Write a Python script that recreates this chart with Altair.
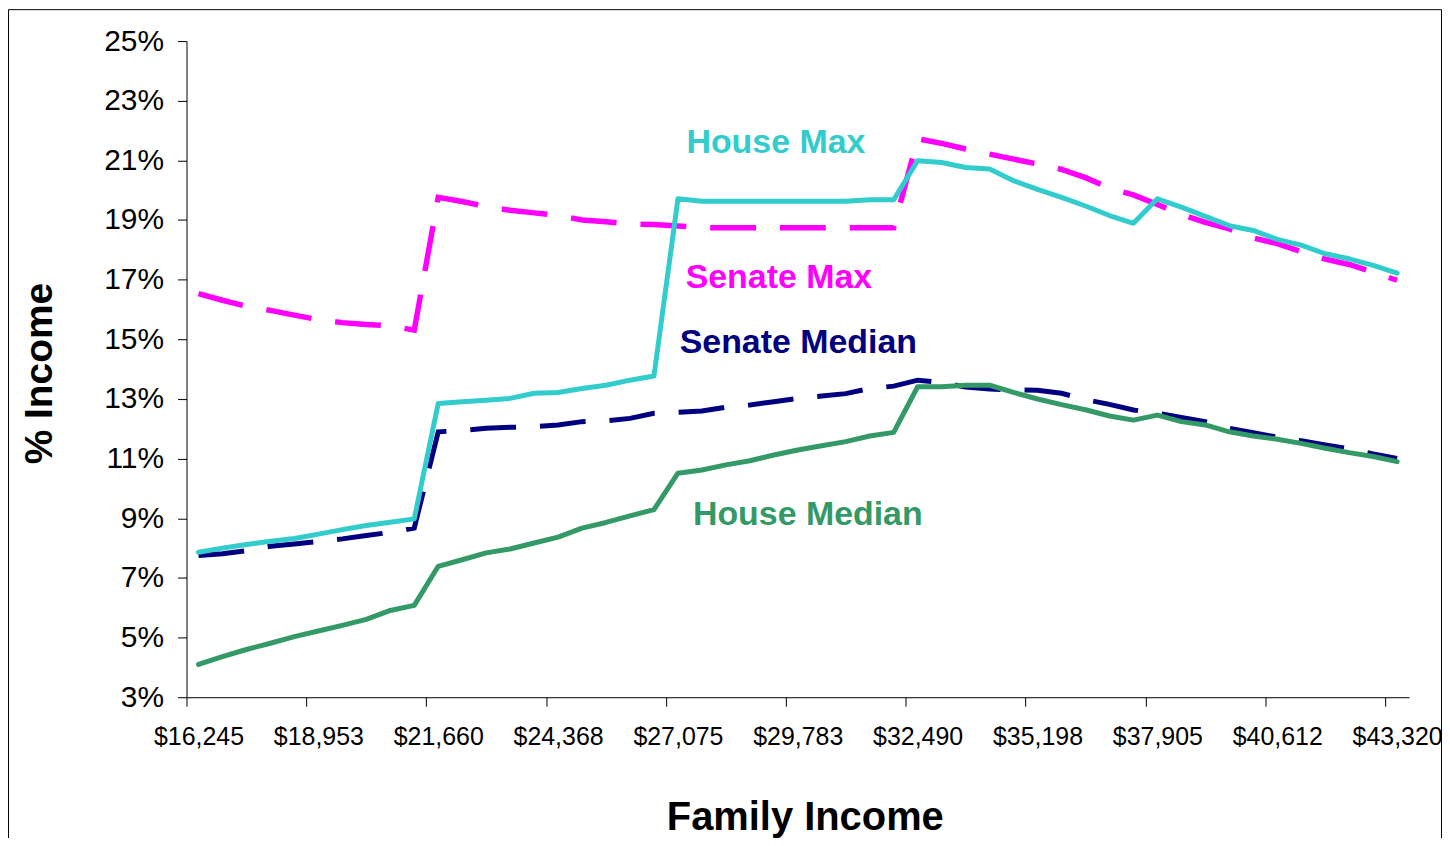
import altair as alt
import pandas as pd

# ---------------- data ----------------
# category grid (51 income steps, every 5th one labelled)
incomes = [16245 + 541.5 * k for k in range(51)]

house_max = [7.86, 8.00, 8.12, 8.23, 8.32, 8.47, 8.62, 8.76, 8.87, 8.98,
             12.85, 12.91, 12.96, 13.02, 13.19, 13.22, 13.35, 13.46, 13.63, 13.77,
             19.71, 19.63, 19.63, 19.63, 19.63, 19.63, 19.63, 19.63, 19.68, 19.68,
             20.99, 20.93, 20.76, 20.71, 20.32, 20.03, 19.76, 19.47, 19.15, 18.89,
             19.71, 19.43, 19.12, 18.81, 18.65, 18.35, 18.16, 17.87, 17.70, 17.48, 17.22]

senate_max = [16.53, 16.31, 16.11, 15.97, 15.81, 15.66, 15.56, 15.50, 15.45, 15.31,
              19.76, 19.62, 19.45, 19.33, 19.24, 19.16, 19.00, 18.94, 18.87, 18.85,
              18.80, 18.74, 18.74, 18.74, 18.74, 18.74, 18.74, 18.74, 18.74, 18.74,
              21.72, 21.57, 21.38, 21.21, 21.04, 20.88, 20.70, 20.42, 20.07, 19.84,
              19.52, 19.19, 18.92, 18.70, 18.40, 18.21, 17.94, 17.69, 17.51, 17.25, 16.98]

senate_median = [7.75, 7.81, 7.91, 8.06, 8.14, 8.22, 8.31, 8.42, 8.53, 8.67,
                 11.90, 11.94, 12.02, 12.05, 12.07, 12.13, 12.24, 12.27, 12.35, 12.52,
                 12.55, 12.60, 12.72, 12.80, 12.91, 13.02, 13.10, 13.18, 13.35, 13.43,
                 13.63, 13.55, 13.40, 13.33, 13.31, 13.29, 13.19, 12.98, 12.82, 12.63,
                 12.52, 12.38, 12.24, 12.02, 11.87, 11.72, 11.60, 11.46, 11.33, 11.16, 11.01]

house_median = [4.10, 4.36, 4.60, 4.81, 5.03, 5.22, 5.41, 5.61, 5.91, 6.08,
                7.39, 7.61, 7.84, 7.97, 8.17, 8.37, 8.67, 8.86, 9.08, 9.29,
                10.51, 10.62, 10.79, 10.93, 11.12, 11.29, 11.43, 11.57, 11.76, 11.88,
                13.41, 13.41, 13.46, 13.46, 13.22, 13.00, 12.81, 12.64, 12.43, 12.29,
                12.46, 12.24, 12.13, 11.90, 11.76, 11.65, 11.51, 11.35, 11.20, 11.07, 10.90]

x_tick_labels = ["$16,245", "$18,953", "$21,660", "$24,368", "$27,075", "$29,783",
                 "$32,490", "$35,198", "$37,905", "$40,612", "$43,320"]
y_ticks = [3, 5, 7, 9, 11, 13, 15, 17, 19, 21, 23, 25]

# series drawn in this order (bottom to top)
series_names = ["Senate Max", "Senate Median", "House Max", "House Median"]
series_values = [senate_max, senate_median, house_max, house_median]
series_colors = ["#FF00FF", "#000080", "#33CCCC", "#339966"]
series_dashed = [True, True, False, False]
series_widths = [5.5, 5, 5, 5]

# in-chart labels: text, income position, % position (baseline)
label_text = ["House Max", "Senate Max", "Senate Median", "House Median"]
label_income = [29287, 29355, 29795, 30008]
label_value = [21.25, 16.71, 14.53, 8.78]
label_color = ["#33CCCC", "#FF00FF", "#000080", "#339966"]

# ---------------- chart ----------------
FONT = "Liberation Sans"
W, H = 1226, 658
step = incomes[1] - incomes[0]
x_domain = [incomes[0] - step / 2, incomes[-1] + step / 2]
cat_px = W * step / (x_domain[1] - x_domain[0])
x_tick_values = [incomes[5 * j] for j in range(11)]

label_array = "[" + ",".join("'" + s + "'" for s in x_tick_labels) + "]"

x_axis = alt.Axis(
    values=x_tick_values,
    labelExpr=f"{label_array}[round((datum.value - {incomes[0]}) / {5 * step})]",
    title="Family Income",
    titleFont=FONT, titleFontSize=40, titleFontWeight="bold", titleColor="black",
    titleX=620, titleY=133, titleBaseline="alphabetic", titleAlign="center",
    labelFont=FONT, labelFontSize=25, labelColor="black", labelPadding=18,
    labelOffset=cat_px / 2, tickOffset=-cat_px / 2,
    tickSize=9, tickColor="black", domainColor="black", grid=False,
    labelOverlap=False, labelFlush=False,
)
y_axis = alt.Axis(
    values=y_ticks,
    labelExpr="datum.value + '%'",
    title="% Income",
    titleFont=FONT, titleFontSize=39, titleFontWeight="bold", titleColor="black",
    titleAngle=270, titleX=-135, titleY=333, titleBaseline="alphabetic", titleAlign="center",
    labelFont=FONT, labelFontSize=30, labelColor="black", labelPadding=14,
    tickSize=9, tickColor="black", domainColor="black", grid=False,
    labelOverlap=False, labelFlush=False,
)

x_enc = alt.X("income:Q", scale=alt.Scale(domain=x_domain, nice=False, zero=False), axis=x_axis)
y_enc = alt.Y("value:Q", scale=alt.Scale(domain=[3, 25], nice=False, zero=False), axis=y_axis)

layers = []
for name, vals, col, dashed, sw in zip(series_names, series_values, series_colors,
                                         series_dashed, series_widths):
    df = pd.DataFrame({"income": incomes, "value": vals, "series": name})
    if dashed:
        mk = alt.Chart(df).mark_line(color=col, strokeWidth=sw, strokeDash=[46, 24],
                                     strokeCap="butt", strokeJoin="miter")
    else:
        mk = alt.Chart(df).mark_line(color=col, strokeWidth=sw, strokeCap="round",
                                     strokeJoin="round")
    layers.append(mk.encode(x=x_enc, y=y_enc))

labels_df = pd.DataFrame({"income": label_income, "value": label_value,
                          "text": label_text, "color": label_color})
labels = alt.Chart(labels_df).mark_text(
    font=FONT, fontSize=34, fontWeight="bold", align="center", baseline="alphabetic"
).encode(x=x_enc, y=y_enc, text="text:N", color=alt.Color("color:N", scale=None))
layers.append(labels)

frame = alt.Chart(pd.DataFrame({"a": [0]})).mark_rect(
    fillOpacity=0, stroke="black", strokeWidth=1, clip=False
).encode(x=alt.value(-178.5), x2=alt.value(W + 32.5), y=alt.value(-31.5), y2=alt.value(H + 160))
layers.append(frame)

chart = alt.layer(*layers).properties(
    width=W, height=H,
    padding={"left": 179, "top": 32, "right": 33, "bottom": 140},
    autosize=alt.AutoSizeParams(type="none"),
    background="white",
).configure_view(strokeWidth=0)

chart.save("out.html", embed_options={"renderer": "svg", "actions": False})
